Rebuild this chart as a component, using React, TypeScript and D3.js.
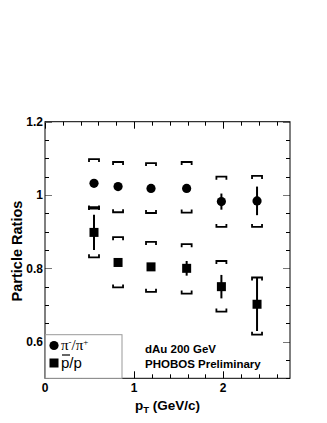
import React from 'react';
import * as d3 from 'd3';

// pT bin centres (GeV/c)
const pt = [0.55, 0.82, 1.19, 1.59, 1.98, 2.38];

// pi-/pi+
const piRatio = [1.032, 1.023, 1.018, 1.018, 0.982, 0.984];
const piStat = [0.004, 0.004, 0.004, 0.004, 0.022, 0.039];
const piSysHi = [0.066, 0.067, 0.069, 0.072, 0.068, 0.068];
const piSysLo = [0.069, 0.070, 0.067, 0.066, 0.069, 0.071];

// pbar/p
const pbarRatio = [0.898, 0.816, 0.804, 0.800, 0.750, 0.702];
const pbarStat = [0.048, 0.008, 0.008, 0.02, 0.032, 0.073];
const pbarSysHi = [0.069, 0.069, 0.068, 0.066, 0.070, 0.073];
const pbarSysLo = [0.068, 0.068, 0.068, 0.069, 0.068, 0.083];

const xLabels = [0, 1, 2];
const yLabels = [0.6, 0.8, 1, 1.2];

const W = 327;
const H = 423;
const font = '"Liberation Sans", Arial, Helvetica, sans-serif';

const App = () => {
    const x = d3.scaleLinear().domain([0, 2.75]).range([45, 290]);
    const y = d3.scaleLinear().domain([0.5, 1.2]).range([378.3, 121.7]);
    const [x0, x1] = x.range();
    const [y0, y1] = y.range();

    const xMinor = d3.range(0, 2.75, 0.2);
    const yMinor = d3.range(0.5, 1.2001, 0.05);

    const bracket = (cx: number, v: number, dir: number, key: string) => {
        // dir = -1: upper bracket (legs down), +1: lower bracket (legs up)
        const yy = y(v);
        const leg = 3 * -dir;
        return (
            <path key={key}
                d={`M${cx - 5},${yy + leg} V${yy} H${cx + 5} V${yy + leg}`}
                fill="none" stroke="#000" strokeWidth={1.8} />
        );
    };

    const series = [
        { vals: piRatio, stat: piStat, hi: piSysHi, lo: piSysLo, shape: 'circle' },
        { vals: pbarRatio, stat: pbarStat, hi: pbarSysHi, lo: pbarSysLo, shape: 'square' },
    ];

    return (
        <svg width={W} height={H} style={{ position: 'absolute', left: 0, top: 0, background: '#fff' }}>
            {/* ticks, all four sides, pointing inward */}
            <g stroke="#000" strokeWidth={1}>
                {xMinor.map((t, i) => {
                    const major = Math.abs(t - Math.round(t)) < 1e-6;
                    const len = major ? 7 : 4;
                    const xx = Math.round(x(t)) + 0.5;
                    return (
                        <g key={'xt' + i}>
                            <line x1={xx} x2={xx} y1={y0} y2={y0 - len} />
                            <line x1={xx} x2={xx} y1={y1} y2={y1 + len} />
                        </g>
                    );
                })}
                {yMinor.map((t, i) => {
                    const major = Math.abs(t * 5 - Math.round(t * 5)) < 1e-6;
                    const len = major ? 7 : 4;
                    const yy = Math.round(y(t)) + 0.5;
                    return (
                        <g key={'yt' + i} stroke={major ? '#777' : '#000'}>
                            <line x1={x0} x2={x0 + len} y1={yy} y2={yy} />
                            <line x1={x1} x2={x1 - len} y1={yy} y2={yy} />
                        </g>
                    );
                })}
            </g>

            {/* frame */}
            <rect x={x0} y={y1} width={x1 - x0} height={y0 - y1} fill="none" stroke="#000" strokeWidth={1} />

            {/* tick labels */}
            <g fontFamily={font} fontWeight="bold" fontSize={12} fill="#000">
                {xLabels.map(t => (
                    <text key={'xl' + t} x={x(t)} y={391.5} textAnchor="middle">{t}</text>
                ))}
                {yLabels.map(t => (
                    <text key={'yl' + t} x={43} y={y(t) + 4.3} textAnchor="end">{d3.format('~g')(t)}</text>
                ))}
            </g>

            {/* axis titles */}
            <text x={135} y={410} fontFamily={font} fontWeight="bold" fontSize={13.5}>
                p<tspan fontSize={9.5} dy={3}>T</tspan><tspan dy={-3}> (GeV/c)</tspan>
            </text>
            <text transform="translate(22,251) rotate(-90)" textAnchor="middle"
                fontFamily={font} fontWeight="bold" fontSize={14.5}>Particle Ratios</text>

            {/* data */}
            {series.map((s, si) => (
                <g key={'s' + si}>
                    {pt.map((p, i) => {
                        const cx = x(p);
                        return (
                            <g key={i}>
                                {bracket(cx, s.vals[i] + s.hi[i], -1, 'h')}
                                {bracket(cx, s.vals[i] - s.lo[i], 1, 'l')}
                                <line x1={cx} x2={cx} y1={y(s.vals[i] + s.stat[i])} y2={y(s.vals[i] - s.stat[i])}
                                    stroke="#000" strokeWidth={2} />
                                {s.shape === 'circle'
                                    ? <circle cx={cx} cy={y(s.vals[i])} r={4.6} fill="#000" />
                                    : <rect x={cx - 4.5} y={y(s.vals[i]) - 4.5} width={9} height={9} fill="#000" />}
                            </g>
                        );
                    })}
                </g>
            ))}

            {/* legend */}
            <rect x={x0 + 0.5} y={334.7} width={76.5} height={y0 - 334.7} fill="#fff" stroke="#999" strokeWidth={1} />
            <circle cx={54} cy={345.5} r={4.6} fill="#000" />
            <text x={61} y={350} fontFamily='"Liberation Serif", "Times New Roman", serif' fontSize={15}>
                π<tspan fontSize={9} dy={-5}>-</tspan><tspan dy={5}>/π</tspan><tspan fontSize={9} dy={-5}>+</tspan>
            </text>
            <rect x={49.5} y={358.5} width={9} height={9} fill="#000" />
            <text x={61} y={368} fontFamily={font} fontSize={15}>p/p</text>
            <line x1={62} x2={70} y1={355} y2={355} stroke="#000" strokeWidth={1.2} />

            {/* annotations */}
            <g fontFamily={font} fontWeight="bold" fontSize={11.5} fill="#000">
                <text x={145} y={353.3}>dAu 200 GeV</text>
                <text x={145} y={368.3}>PHOBOS Preliminary</text>
            </g>
        </svg>
    );
};

export default App;
